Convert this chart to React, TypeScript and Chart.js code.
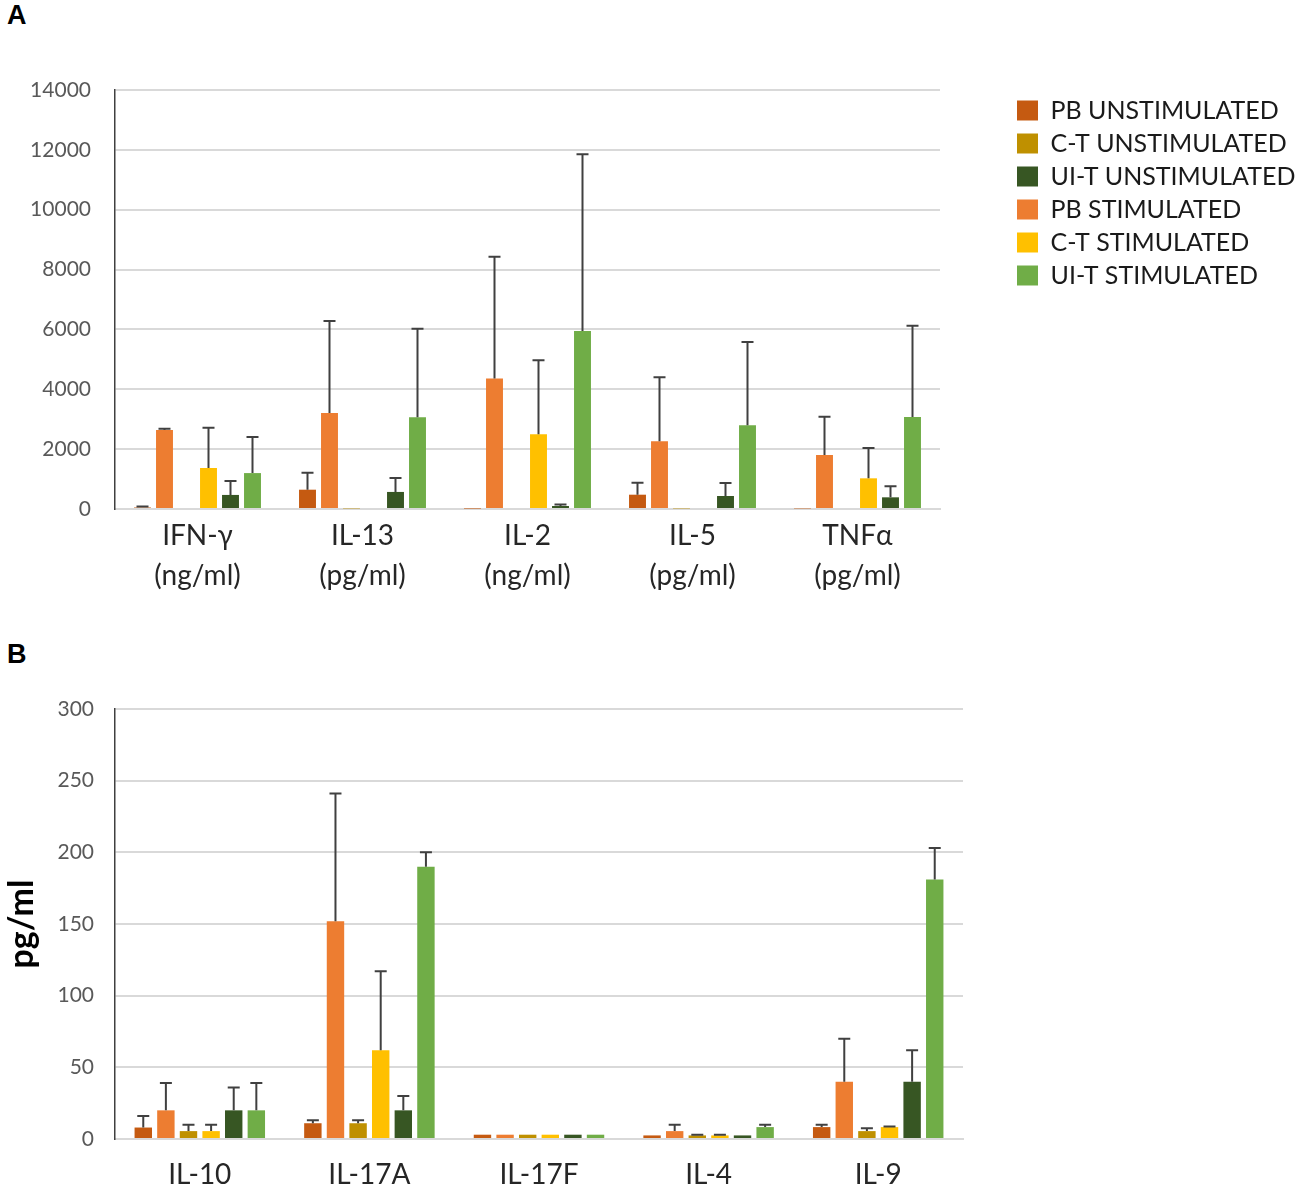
import { useEffect, useRef } from 'react'
import { Chart, registerables } from 'chart.js'

Chart.register(...registerables)
Chart.defaults.font.family = 'Lato'

// series, in the order the bars stand inside each group
const seriesNames = ['PB UNSTIMULATED', 'PB STIMULATED', 'C-T UNSTIMULATED', 'C-T STIMULATED', 'UI-T UNSTIMULATED', 'UI-T STIMULATED']
const seriesColors = ['#c55a11', '#ed7d31', '#bf9000', '#ffc000', '#375623', '#70ad47']
// legend lists the unstimulated ones first
const legendOrder = [0, 2, 4, 1, 3, 5]

// panel A
const categoriesA = [['IFN-γ', '(ng/ml)'], ['IL-13', '(pg/ml)'], ['IL-2', '(ng/ml)'], ['IL-5', '(pg/ml)'], ['TNFα', '(pg/ml)']]
const yTicksA = [0, 2000, 4000, 6000, 8000, 10000, 12000, 14000]
const pbUnstimA = [50, 645, 15, 478, 20]
const pbStimA = [2640, 3207, 4360, 2262, 1804]
const ctUnstimA = [0, 20, 0, 20, 0]
const ctStimA = [1370, 0, 2495, 0, 1025]
const uitUnstimA = [470, 570, 100, 434, 390]
const uitStimA = [1200, 3063, 5947, 2796, 3073]
const pbUnstimErrA = [30, 568, 0, 402, 0]
const pbStimErrA = [40, 3073, 4070, 2138, 1281]
const ctUnstimErrA = [0, 0, 0, 0, 0]
const ctStimErrA = [1345, 0, 2473, 0, 1013]
const uitUnstimErrA = [465, 465, 50, 434, 368]
const uitStimErrA = [1205, 2960, 5903, 2784, 3052]

// panel B
const categoriesB = ['IL-10', 'IL-17A', 'IL-17F', 'IL-4', 'IL-9']
const yTicksB = [0, 50, 100, 150, 200, 250, 300]
const pbUnstimB = [8, 11, 3, 2.5, 8.3]
const pbStimB = [20, 152, 3, 5.5, 40]
const ctUnstimB = [5.5, 11, 3, 2.5, 5.5]
const ctStimB = [5.5, 62, 3, 2.5, 8.3]
const uitUnstimB = [20, 20, 3, 2.5, 40]
const uitStimB = [20, 190, 3, 8.3, 181]
const pbUnstimErrB = [8, 2, 0, 0, 1.7]
const pbStimErrB = [19, 89, 0, 4.5, 30]
const ctUnstimErrB = [4.5, 2, 0, 0.5, 2]
const ctStimErrB = [4.5, 55, 0, 0.5, 0.5]
const uitUnstimErrB = [16, 10, 0, 0, 22]
const uitStimErrB = [19, 10, 0, 1.7, 22]

// plus-only error bars, drawn on top of the bars
const errorBarPlugin = {
    id: 'errorBars',
    afterDatasetsDraw(chart: any, _args: any, opts: any) {
        const errors: number[][] = opts.errors || []
        const ctx = chart.ctx
        const yScale = chart.scales.y
        ctx.save()
        ctx.strokeStyle = '#404040'
        ctx.lineWidth = 2
        chart.data.datasets.forEach((ds: any, di: number) => {
            const meta = chart.getDatasetMeta(di)
            const errs = errors[di] || []
            meta.data.forEach((bar: any, i: number) => {
                const err = errs[i]
                if (!err) return
                const top = yScale.getPixelForValue(ds.data[i])
                const end = yScale.getPixelForValue(ds.data[i] + err)
                ctx.beginPath()
                ctx.moveTo(bar.x, top)
                ctx.lineTo(bar.x, end)
                ctx.moveTo(bar.x - 6, end)
                ctx.lineTo(bar.x + 6, end)
                ctx.stroke()
            })
        })
        ctx.restore()
    },
}

type PanelProps = {
    categories: any[]
    series: number[][]
    errors: number[][]
    yTicks: number[]
    yTitle?: string
    legend?: boolean
    width: number
    height: number
    padding: any
    tickPadding: number
    xHeight: number
    xPadding: number
}

const Panel = ({ categories, series, errors, yTicks, yTitle, legend, width, height, padding, tickPadding, xHeight, xPadding }: PanelProps) => {
    const canvasRef = useRef<HTMLCanvasElement | null>(null)
    const chartRef = useRef<Chart | null>(null)

    useEffect(() => {
        const ctx = canvasRef.current?.getContext('2d')
        if (!ctx) return

        const scales: any = {
            x: {
                grid: { display: false, drawTicks: false },
                border: { display: true, color: '#d9d9d9', width: 2 },
                ticks: {
                    color: '#262626',
                    font: { size: 28, lineHeight: 40 / 28 },
                    padding: xPadding,
                    maxRotation: 0,
                    autoSkip: false,
                },
                afterFit: (s: any) => { s.height = xHeight },
            },
            y: {
                min: yTicks[0],
                max: yTicks[yTicks.length - 1],
                afterBuildTicks: (s: any) => { s.ticks = yTicks.map(v => ({ value: v })) },
                grid: { color: '#d9d9d9', lineWidth: 2, drawTicks: false },
                border: { display: true, color: '#404040', width: 1.5 },
                ticks: {
                    color: '#595959',
                    font: { size: 21 },
                    padding: tickPadding,
                    callback: (v: any) => String(v),
                },
                title: {
                    display: !!yTitle,
                    text: yTitle,
                    color: '#000',
                    font: { size: 34, weight: 'bold' },
                    padding: { top: 2, bottom: 0 },
                },
                afterFit: (s: any) => { s.width = 115; s.paddingTop = 0 },
            },
        }
        if (legend) {
            // empty scale keeping the gap between plot and legend
            scales.gap = {
                type: 'linear',
                position: 'right',
                display: true,
                grid: { display: false, drawTicks: false },
                border: { display: false },
                ticks: { display: false },
                afterFit: (s: any) => { s.width = 69 },
            }
        }

        chartRef.current = new Chart(ctx, {
            type: 'bar',
            data: {
                labels: categories,
                datasets: series.map((values, i) => ({
                    label: seriesNames[i],
                    data: values,
                    backgroundColor: seriesColors[i],
                    categoryPercentage: 0.8,
                    barPercentage: 0.77,
                })),
            },
            options: {
                responsive: false,
                animation: false,
                layout: { padding },
                scales,
                plugins: {
                    legend: {
                        display: !!legend,
                        position: 'right',
                        align: 'start',
                        maxWidth: 290,
                        labels: {
                            color: '#1a1a1a',
                            font: { size: 25 },
                            boxWidth: 21,
                            boxHeight: 20,
                            padding: 8,
                            sort: (a: any, b: any) => legendOrder.indexOf(a.datasetIndex) - legendOrder.indexOf(b.datasetIndex),
                        },
                    },
                    tooltip: { enabled: false },
                    errorBars: { errors },
                } as any,
            },
            plugins: [errorBarPlugin],
        })
        return () => chartRef.current?.destroy()
    }, [])

    return <canvas ref={canvasRef} width={width} height={height} style={{ display: 'block' }} />
}

const panelLetter: React.CSSProperties = {
    position: 'absolute',
    left: 7,
    fontFamily: '"Liberation Sans", Arial, sans-serif',
    fontWeight: 'bold',
    fontSize: 27,
    lineHeight: 1,
    color: '#000',
}

export default function App() {
    return (
        <div style={{ position: 'absolute', left: 0, top: 0, width: 1299, height: 1189, background: '#fff', overflow: 'hidden' }}>
            <div style={{ ...panelLetter, top: 2 }}>A</div>
            <div style={{ position: 'absolute', left: 0, top: 60 }}>
                <Panel
                    categories={categoriesA}
                    series={[pbUnstimA, pbStimA, ctUnstimA, ctStimA, uitUnstimA, uitStimA]}
                    errors={[pbUnstimErrA, pbStimErrA, ctUnstimErrA, ctStimErrA, uitUnstimErrA, uitStimErrA]}
                    yTicks={yTicksA}
                    legend
                    width={1299}
                    height={540}
                    padding={{ top: 30, right: 0, bottom: 0, left: 0 }}
                    tickPadding={24}
                    xHeight={91}
                    xPadding={7}
                />
            </div>
            <div style={{ ...panelLetter, top: 641 }}>B</div>
            <div style={{ position: 'absolute', left: 0, top: 640 }}>
                <Panel
                    categories={categoriesB}
                    series={[pbUnstimB, pbStimB, ctUnstimB, ctStimB, uitUnstimB, uitStimB]}
                    errors={[pbUnstimErrB, pbStimErrB, ctUnstimErrB, ctStimErrB, uitUnstimErrB, uitStimErrB]}
                    yTicks={yTicksB}
                    yTitle="pg/ml"
                    width={1299}
                    height={549}
                    padding={{ top: 69, right: 336, bottom: 0, left: 0 }}
                    tickPadding={21}
                    xHeight={50}
                    xPadding={16}
                />
            </div>
        </div>
    )
}
